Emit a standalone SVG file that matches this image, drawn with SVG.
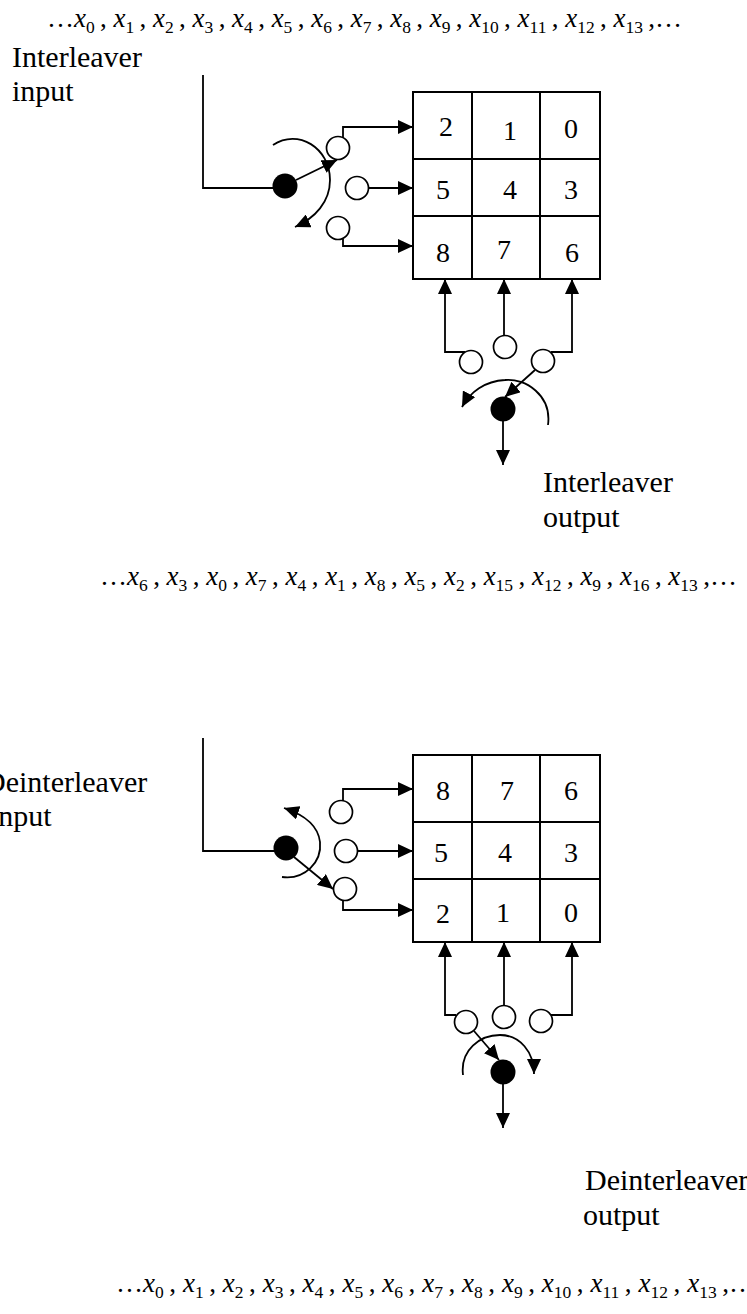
<svg xmlns="http://www.w3.org/2000/svg" width="747" height="1314" viewBox="0 0 747 1314">
  <style>
    .seq { font-family: "Liberation Serif", "Times New Roman", serif; font-size: 27px; fill: #000; }
    .v { font-style: italic; }
    .s { font-size: 17.5px; }
    .lbl { font-family: "Liberation Serif", "Times New Roman", serif; font-size: 30px; fill: #000; }
    .num { font-family: "Liberation Serif", "Times New Roman", serif; font-size: 28px; fill: #000; text-anchor: middle; }
    .cell { fill: #fff; stroke: #000; stroke-width: 2; }
    .tap { fill: #fff; stroke: #000; stroke-width: 1.7; }
    .hub { fill: #000; }
    .wire { fill: none; stroke: #000; stroke-width: 1.8; }
    .arr { marker-end: url(#head); }
  </style>
  <defs>
    <marker id="head" markerUnits="userSpaceOnUse" markerWidth="15" markerHeight="14" refX="15" refY="7" orient="auto">
      <path d="M0,0 L15,7 L0,14 z" fill="#000"/>
    </marker>
  </defs>

  <rect width="747" height="1314" fill="#fff"/>

  <!-- input sequence -->
  <g id="seq-input">
    <text class="seq" x="47" y="27" textLength="635" lengthAdjust="spacing">…<tspan class="v">x</tspan><tspan class="s" dy="6">0</tspan><tspan dy="-6">&#8201;, </tspan><tspan class="v">x</tspan><tspan class="s" dy="6">1</tspan><tspan dy="-6">&#8201;, </tspan><tspan class="v">x</tspan><tspan class="s" dy="6">2</tspan><tspan dy="-6">&#8201;, </tspan><tspan class="v">x</tspan><tspan class="s" dy="6">3</tspan><tspan dy="-6">&#8201;, </tspan><tspan class="v">x</tspan><tspan class="s" dy="6">4</tspan><tspan dy="-6">&#8201;, </tspan><tspan class="v">x</tspan><tspan class="s" dy="6">5</tspan><tspan dy="-6">&#8201;, </tspan><tspan class="v">x</tspan><tspan class="s" dy="6">6</tspan><tspan dy="-6">&#8201;, </tspan><tspan class="v">x</tspan><tspan class="s" dy="6">7</tspan><tspan dy="-6">&#8201;, </tspan><tspan class="v">x</tspan><tspan class="s" dy="6">8</tspan><tspan dy="-6">&#8201;, </tspan><tspan class="v">x</tspan><tspan class="s" dy="6">9</tspan><tspan dy="-6">&#8201;, </tspan><tspan class="v">x</tspan><tspan class="s" dy="6">10</tspan><tspan dy="-6">&#8201;, </tspan><tspan class="v">x</tspan><tspan class="s" dy="6">11</tspan><tspan dy="-6">&#8201;, </tspan><tspan class="v">x</tspan><tspan class="s" dy="6">12</tspan><tspan dy="-6">&#8201;, </tspan><tspan class="v">x</tspan><tspan class="s" dy="6">13</tspan><tspan dy="-6">&#8201;,…</tspan></text>
  </g>

  <!-- interleaver input label -->
  <g id="label-interleaver-input">
    <text class="lbl" x="12" y="67">Interleaver</text>
    <text class="lbl" x="12" y="101">input</text>
  </g>

  <!-- interleaver input commutator -->
  <g id="switch-interleaver-input">
    <circle class="hub" cx="285" cy="186" r="12.5"/>
  </g>
  <g id="taps-interleaver-input">
    <circle class="tap" cx="338" cy="148" r="11.5"/>
    <circle class="tap" cx="357" cy="188" r="11.5"/>
    <circle class="tap" cx="338" cy="228" r="11.5"/>
  </g>

  <!-- interleaver memory -->
  <g id="grid-interleaver">
    <rect class="cell" x="413" y="92" width="59" height="67"/>
    <rect class="cell" x="472" y="92" width="68" height="67"/>
    <rect class="cell" x="540" y="92" width="60" height="67"/>
    <rect class="cell" x="413" y="159" width="59" height="57"/>
    <rect class="cell" x="472" y="159" width="68" height="57"/>
    <rect class="cell" x="540" y="159" width="60" height="57"/>
    <rect class="cell" x="413" y="216" width="59" height="63"/>
    <rect class="cell" x="472" y="216" width="68" height="63"/>
    <rect class="cell" x="540" y="216" width="60" height="63"/>
    <text class="num" x="446" y="136">2</text>
    <text class="num" x="510" y="140">1</text>
    <text class="num" x="571" y="138">0</text>
    <text class="num" x="443" y="199">5</text>
    <text class="num" x="510" y="199">4</text>
    <text class="num" x="571" y="199">3</text>
    <text class="num" x="443" y="262">8</text>
    <text class="num" x="504" y="259">7</text>
    <text class="num" x="572" y="262">6</text>
  </g>

  <!-- interleaver output commutator -->
  <g id="taps-interleaver-output">
    <circle class="tap" cx="471" cy="362" r="11.5"/>
    <circle class="tap" cx="505" cy="347" r="11.5"/>
    <circle class="tap" cx="543" cy="361" r="11.5"/>
  </g>
  <g id="switch-interleaver-output">
    <circle class="hub" cx="503" cy="409" r="12.5"/>
  </g>

  <g id="label-interleaver-output">
    <text class="lbl" x="543" y="492">Interleaver</text>
    <text class="lbl" x="543" y="527">output</text>
  </g>

  <!-- interleaved sequence -->
  <g id="seq-interleaved">
    <text class="seq" x="100" y="585" textLength="637" lengthAdjust="spacing">…<tspan class="v">x</tspan><tspan class="s" dy="6">6</tspan><tspan dy="-6">&#8201;, </tspan><tspan class="v">x</tspan><tspan class="s" dy="6">3</tspan><tspan dy="-6">&#8201;, </tspan><tspan class="v">x</tspan><tspan class="s" dy="6">0</tspan><tspan dy="-6">&#8201;, </tspan><tspan class="v">x</tspan><tspan class="s" dy="6">7</tspan><tspan dy="-6">&#8201;, </tspan><tspan class="v">x</tspan><tspan class="s" dy="6">4</tspan><tspan dy="-6">&#8201;, </tspan><tspan class="v">x</tspan><tspan class="s" dy="6">1</tspan><tspan dy="-6">&#8201;, </tspan><tspan class="v">x</tspan><tspan class="s" dy="6">8</tspan><tspan dy="-6">&#8201;, </tspan><tspan class="v">x</tspan><tspan class="s" dy="6">5</tspan><tspan dy="-6">&#8201;, </tspan><tspan class="v">x</tspan><tspan class="s" dy="6">2</tspan><tspan dy="-6">&#8201;, </tspan><tspan class="v">x</tspan><tspan class="s" dy="6">15</tspan><tspan dy="-6">&#8201;, </tspan><tspan class="v">x</tspan><tspan class="s" dy="6">12</tspan><tspan dy="-6">&#8201;, </tspan><tspan class="v">x</tspan><tspan class="s" dy="6">9</tspan><tspan dy="-6">&#8201;, </tspan><tspan class="v">x</tspan><tspan class="s" dy="6">16</tspan><tspan dy="-6">&#8201;, </tspan><tspan class="v">x</tspan><tspan class="s" dy="6">13</tspan><tspan dy="-6">&#8201;,…</tspan></text>
  </g>

  <!-- deinterleaver input label -->
  <g id="label-deinterleaver-input">
    <text class="lbl" x="-16" y="792">Deinterleaver</text>
    <text class="lbl" x="-10" y="826">input</text>
  </g>

  <g id="switch-deinterleaver-input">
    <circle class="hub" cx="286" cy="848" r="12.5"/>
  </g>
  <g id="taps-deinterleaver-input">
    <circle class="tap" cx="341" cy="812" r="11.5"/>
    <circle class="tap" cx="346" cy="851" r="11.5"/>
    <circle class="tap" cx="345" cy="889" r="11.5"/>
  </g>

  <!-- deinterleaver memory -->
  <g id="grid-deinterleaver">
    <rect class="cell" x="413" y="755" width="59" height="67"/>
    <rect class="cell" x="472" y="755" width="68" height="67"/>
    <rect class="cell" x="540" y="755" width="60" height="67"/>
    <rect class="cell" x="413" y="822" width="59" height="57"/>
    <rect class="cell" x="472" y="822" width="68" height="57"/>
    <rect class="cell" x="540" y="822" width="60" height="57"/>
    <rect class="cell" x="413" y="879" width="59" height="63"/>
    <rect class="cell" x="472" y="879" width="68" height="63"/>
    <rect class="cell" x="540" y="879" width="60" height="63"/>
    <text class="num" x="443" y="800">8</text>
    <text class="num" x="507" y="800">7</text>
    <text class="num" x="571" y="800">6</text>
    <text class="num" x="441" y="862">5</text>
    <text class="num" x="505" y="862">4</text>
    <text class="num" x="571" y="862">3</text>
    <text class="num" x="443" y="923">2</text>
    <text class="num" x="503" y="922">1</text>
    <text class="num" x="571" y="922">0</text>
  </g>

  <g id="taps-deinterleaver-output">
    <circle class="tap" cx="466" cy="1022" r="11.5"/>
    <circle class="tap" cx="504" cy="1017" r="11.5"/>
    <circle class="tap" cx="541" cy="1021" r="11.5"/>
  </g>
  <g id="switch-deinterleaver-output">
    <circle class="hub" cx="503" cy="1072" r="12.5"/>
  </g>

  <g id="label-deinterleaver-output">
    <text class="lbl" x="585" y="1190">Deinterleaver</text>
    <text class="lbl" x="583" y="1225">output</text>
  </g>

  <!-- deinterleaved sequence -->
  <g id="seq-output">
    <text class="seq" x="116" y="1292" textLength="640" lengthAdjust="spacing">…<tspan class="v">x</tspan><tspan class="s" dy="6">0</tspan><tspan dy="-6">&#8201;, </tspan><tspan class="v">x</tspan><tspan class="s" dy="6">1</tspan><tspan dy="-6">&#8201;, </tspan><tspan class="v">x</tspan><tspan class="s" dy="6">2</tspan><tspan dy="-6">&#8201;, </tspan><tspan class="v">x</tspan><tspan class="s" dy="6">3</tspan><tspan dy="-6">&#8201;, </tspan><tspan class="v">x</tspan><tspan class="s" dy="6">4</tspan><tspan dy="-6">&#8201;, </tspan><tspan class="v">x</tspan><tspan class="s" dy="6">5</tspan><tspan dy="-6">&#8201;, </tspan><tspan class="v">x</tspan><tspan class="s" dy="6">6</tspan><tspan dy="-6">&#8201;, </tspan><tspan class="v">x</tspan><tspan class="s" dy="6">7</tspan><tspan dy="-6">&#8201;, </tspan><tspan class="v">x</tspan><tspan class="s" dy="6">8</tspan><tspan dy="-6">&#8201;, </tspan><tspan class="v">x</tspan><tspan class="s" dy="6">9</tspan><tspan dy="-6">&#8201;, </tspan><tspan class="v">x</tspan><tspan class="s" dy="6">10</tspan><tspan dy="-6">&#8201;, </tspan><tspan class="v">x</tspan><tspan class="s" dy="6">11</tspan><tspan dy="-6">&#8201;, </tspan><tspan class="v">x</tspan><tspan class="s" dy="6">12</tspan><tspan dy="-6">&#8201;, </tspan><tspan class="v">x</tspan><tspan class="s" dy="6">13</tspan><tspan dy="-6">&#8201;,…</tspan></text>
  </g>

  <!-- connectors -->
  <g id="connectors">
    <!-- interleaver input feed -->
    <path class="wire" d="M203,75 V188 H275"/>
    <path class="wire arr" d="M296,180 L337,160"/>
    <path class="wire arr" d="M273,145 C298,128 330,148 330,180 C330,202 315,218 295,227"/>
    <path class="wire arr" d="M343,138 V127 H413"/>
    <path class="wire arr" d="M369,188 H413"/>
    <path class="wire arr" d="M343,239 V246 H413"/>
    <!-- interleaver read-out -->
    <path class="wire arr" d="M465,352 H445 V279"/>
    <path class="wire arr" d="M504,335 V279"/>
    <path class="wire arr" d="M551,352 H572 V279"/>
    <path class="wire arr" d="M535,370 L505,397"/>
    <path class="wire arr" d="M548,425 C552,395 525,378 505,380 C485,381 470,392 462,407"/>
    <path class="wire arr" d="M503,421 V465"/>
    <!-- deinterleaver input feed -->
    <path class="wire" d="M203,738 V851 H276"/>
    <path class="wire arr" d="M294,857 L333,889"/>
    <path class="wire arr" d="M282,877 C305,880 322,862 320,842 C318,825 305,815 284,808"/>
    <path class="wire arr" d="M343,801 V789 H413"/>
    <path class="wire arr" d="M358,851 H413"/>
    <path class="wire arr" d="M343,900 V910 H413"/>
    <!-- deinterleaver read-out -->
    <path class="wire arr" d="M456,1015 H445 V942"/>
    <path class="wire arr" d="M504,1005 V942"/>
    <path class="wire arr" d="M551,1015 H572 V942"/>
    <path class="wire arr" d="M474,1031 L499,1060"/>
    <path class="wire arr" d="M463,1075 C460,1050 480,1035 500,1035 C520,1035 534,1052 534,1074"/>
    <path class="wire arr" d="M503,1084 V1128"/>
  </g>
</svg>
